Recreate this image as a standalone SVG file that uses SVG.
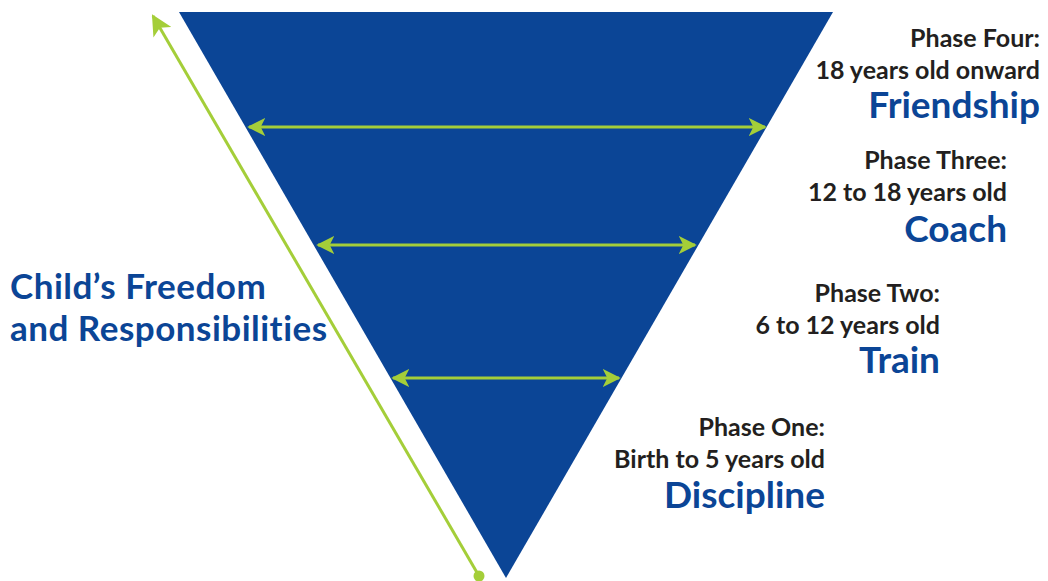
<svg xmlns="http://www.w3.org/2000/svg" width="1048" height="581" viewBox="0 0 1048 581">
  <defs>
    <marker id="head" viewBox="0 0 10 10" refX="9" refY="5" markerWidth="6" markerHeight="6" markerUnits="strokeWidth" orient="auto-start-reverse">
      <path d="M0,0 L10,5 L0,10 L2.5,5 Z" fill="#A4CE39"/>
    </marker>
    <marker id="head2" viewBox="0 0 10 10" refX="9" refY="5" markerWidth="7" markerHeight="7" markerUnits="strokeWidth" orient="auto">
      <path d="M0,0 L10,5 L0,10 L2.5,5 Z" fill="#A4CE39"/>
    </marker>
  </defs>
  <style>
    .phase { font-family: Lato, "Open Sans", sans-serif; font-weight: 700; font-size: 25px; fill: #231F20; text-anchor: end; }
    .role { font-family: Lato, "Open Sans", sans-serif; font-weight: 700; font-size: 37px; fill: #0B4596; text-anchor: end; }
    .side { font-family: Lato, "Open Sans", sans-serif; font-weight: 700; font-size: 35px; letter-spacing: 0.5px; fill: #0B4596; }
    .span { stroke: #A4CE39; stroke-width: 3; fill: none; }
  </style>
  <rect width="1048" height="581" fill="#FFFFFF"/>

  <g id="funnel">
    <polygon points="179,12 833,12 506,578" fill="#0B4596"/>
  </g>

  <g id="connectors">
    <line class="span" x1="249" y1="127" x2="765" y2="127" marker-start="url(#head)" marker-end="url(#head)"/>
    <line class="span" x1="318" y1="245" x2="695" y2="245" marker-start="url(#head)" marker-end="url(#head)"/>
    <line class="span" x1="393" y1="378" x2="619" y2="378" marker-start="url(#head)" marker-end="url(#head)"/>
    <line class="span" x1="479" y1="576" x2="153" y2="16" marker-end="url(#head2)"/>
    <circle cx="479" cy="576" r="5.5" fill="#A4CE39"/>
  </g>

  <g id="side-label">
    <text class="side" x="10" y="299">Child’s Freedom</text>
    <text class="side" x="10" y="341">and Responsibilities</text>
  </g>

  <g id="phase-four">
    <text class="phase" x="1040" y="47">Phase Four:</text>
    <text class="phase" x="1040" y="79">18 years old onward</text>
    <text class="role" x="1040" y="118">Friendship</text>
  </g>

  <g id="phase-three">
    <text class="phase" x="1007" y="169">Phase Three:</text>
    <text class="phase" x="1007" y="201">12 to 18 years old</text>
    <text class="role" x="1007" y="242">Coach</text>
  </g>

  <g id="phase-two">
    <text class="phase" x="940" y="302">Phase Two:</text>
    <text class="phase" x="940" y="334">6 to 12 years old</text>
    <text class="role" x="940" y="373">Train</text>
  </g>

  <g id="phase-one">
    <text class="phase" x="825" y="436">Phase One:</text>
    <text class="phase" x="825" y="468">Birth to 5 years old</text>
    <text class="role" x="825" y="508">Discipline</text>
  </g>
</svg>
